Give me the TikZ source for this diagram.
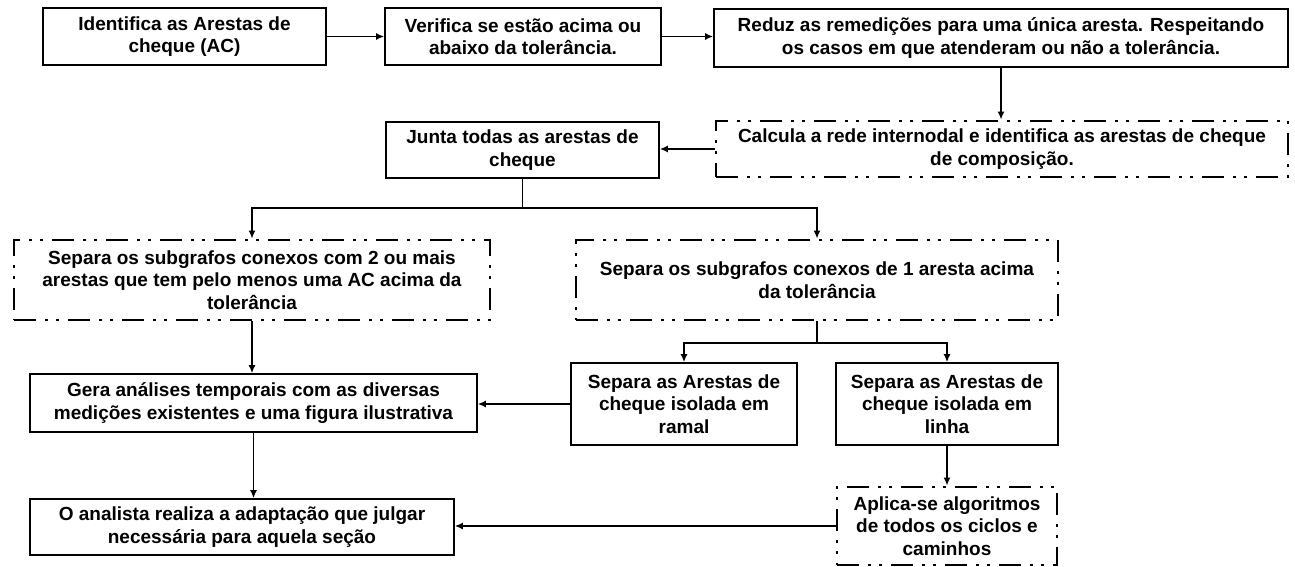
\documentclass[tikz,border=0pt]{standalone}
\usepackage{fontspec}
\setmainfont{Liberation Sans}
\usetikzlibrary{arrows.meta}
\tikzset{
  box/.style={draw=black, line width=1.6pt, fill=white, inner sep=0pt, align=center,
    font=\fontsize{19}{22.5}\selectfont\bfseries},
  dbox/.style={box, line width=2.8pt,
    dash pattern=on 22pt off 9pt on 3pt off 8pt on 3pt off 9pt},
  conn/.style={draw=black, line width=1.6pt},
  arr/.style={conn, -{Latex[length=8pt,width=7pt]}}
}
\begin{document}
\begin{tikzpicture}[x=1pt,y=-1pt]
\fill[white] (0,0) rectangle (1295,567);
\useasboundingbox (0,0) rectangle (1295,567);

\node[box, minimum width=283pt, minimum height=57pt] (b1) at (184.5,36.5) {Identifica as Arestas de\\cheque (AC)};
\node[box, minimum width=276pt, minimum height=57pt] (b2) at (523,36.5) {Verifica se estão acima ou\\abaixo da tolerância.};
\node[box, minimum width=574pt, minimum height=58pt] (b3) at (1001,38) {Reduz as remedições para uma única aresta. Respeitando\\os casos em que atenderam ou não a tolerância.};
\node[dbox, minimum width=572pt, minimum height=56pt] (b4) at (1002,149) {Calcula a rede internodal e identifica as arestas de cheque\\de composição.};
\node[box, minimum width=273pt, minimum height=56pt] (b5) at (522.5,150) {Junta todas as arestas de\\cheque};
\node[dbox, minimum width=476pt, minimum height=80pt] (b6) at (252,280) {Separa os subgrafos conexos com 2 ou mais\\arestas que tem pelo menos uma AC acima da\\tolerância};
\node[dbox, minimum width=482pt, minimum height=80pt] (b7) at (817,280) {Separa os subgrafos conexos de 1 aresta acima\\da tolerância};
\node[box, minimum width=447pt, minimum height=58pt] (b8) at (253.5,403) {Gera análises temporais com as diversas\\medições existentes e uma figura ilustrativa};
\node[box, minimum width=226pt, minimum height=82pt] (b9) at (684,404) {Separa as Arestas de\\cheque isolada em\\ramal};
\node[box, minimum width=222pt, minimum height=82pt] (b10) at (947,404) {Separa as Arestas de\\cheque isolada em\\linha};
\node[box, minimum width=424pt, minimum height=56pt] (b11) at (242,527) {O analista realiza a adaptação que julgar\\necessária para aquela seção};
\node[dbox, minimum width=220pt, minimum height=78pt] (b12) at (947,526) {Aplica-se algoritmos\\de todos os ciclos e\\caminhos};

\coordinate (j1) at (522.5,208);
\coordinate (j2) at (817,343);

\draw[arr] (b1.east) -- (b2.west);
\draw[arr] (b2.east) -- (b3.west |- b2.east);
\draw[arr] (b3.south) -- (b3.south |- b4.north);
\draw[arr] (b4.west) -- (b5.east |- b4.west);
\draw[conn] (b5.south) -- (j1);
\draw[arr] (j1) -| (b6.north);
\draw[arr] (j1) -| (b7.north);
\draw[conn] (b7.south) -- (j2);
\draw[arr] (j2) -| (b9.north);
\draw[arr] (j2) -| (b10.north);
\draw[arr] (b6.south) -- (b6.south |- b8.north);
\draw[arr] (b9.west) -- (b8.east |- b9.west);
\draw[arr] (b10.south) -- (b12.north);
\draw[arr] (b8.south) -- (b8.south |- b11.north);
\draw[arr] (b12.west) -- (b11.east |- b12.west);
\end{tikzpicture}
\end{document}
